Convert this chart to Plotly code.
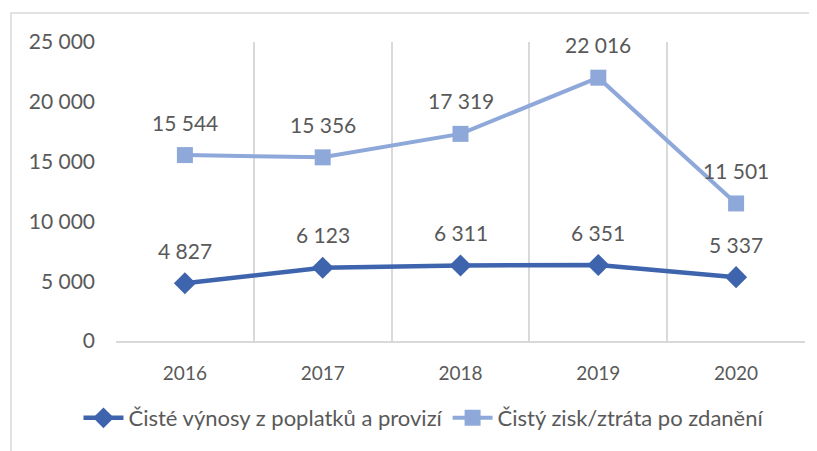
import plotly.graph_objects as go

years = ["2016", "2017", "2018", "2019", "2020"]
fees = [4827, 6123, 6311, 6351, 5337]
profit = [15544, 15356, 17319, 22016, 11501]
fees_name = "Čisté výnosy z poplatků a provizí"
profit_name = "Čistý zisk/ztráta po zdanění"

DARK = "#3E64AE"
LIGHT = "#8FA8DA"
TEXT = "#595959"
GRID = "#D9D9D9"
FONT = "Lato"


def fmt(v):
    return f"{v:,}".replace(",", " ")


fig = go.Figure()
fig.add_trace(go.Scatter(
    x=years, y=fees, name=fees_name, mode="lines+markers",
    line=dict(color=DARK, width=4.5),
    marker=dict(symbol="diamond", size=17, color=DARK),
))
fig.add_trace(go.Scatter(
    x=years, y=profit, name=profit_name, mode="lines+markers",
    line=dict(color=LIGHT, width=4),
    marker=dict(symbol="square", size=16, color=LIGHT),
))

# data labels above the points (category axis -> use the category index)
for series in (fees, profit):
    for i, v in enumerate(series):
        fig.add_annotation(x=i, y=v, text=fmt(v), showarrow=False, yshift=33,
                           font=dict(size=21, color=TEXT, family=FONT))

# light outer frame of the chart
fig.add_shape(type="rect", xref="paper", yref="paper",
              x0=-0.1524, x1=1.04, y0=-0.40, y1=1.097,
              line=dict(color=GRID, width=1.5), layer="below")

# page body has an 8px margin, so the figure is a bit smaller than the window
fig.update_layout(
    width=809, height=443,
    margin=dict(l=108, r=12, t=34, b=110),
    paper_bgcolor="white", plot_bgcolor="white",
    font=dict(family=FONT, color=TEXT, size=20),
    separators=", ",
    showlegend=True,
    legend=dict(orientation="h", x=0.447, xanchor="center", y=-0.2575, yanchor="middle",
                font=dict(size=22, color=TEXT), itemwidth=40, bgcolor="rgba(0,0,0,0)"),
    xaxis=dict(type="category", tickson="boundaries", showgrid=True, gridcolor=GRID, gridwidth=1.5,
               showline=True, linecolor=GRID, linewidth=1.5, ticks="", zeroline=False,
               tickfont=dict(size=19, color=TEXT), ticklabelstandoff=14, range=[-0.5, 4.5]),
    yaxis=dict(range=[0, 25000], dtick=5000, tickformat=",d", showgrid=False, zeroline=False,
               showline=False, ticks="", ticklabelstandoff=20,
               tickfont=dict(size=21, color=TEXT)),
)

fig.write_html("out.html")
